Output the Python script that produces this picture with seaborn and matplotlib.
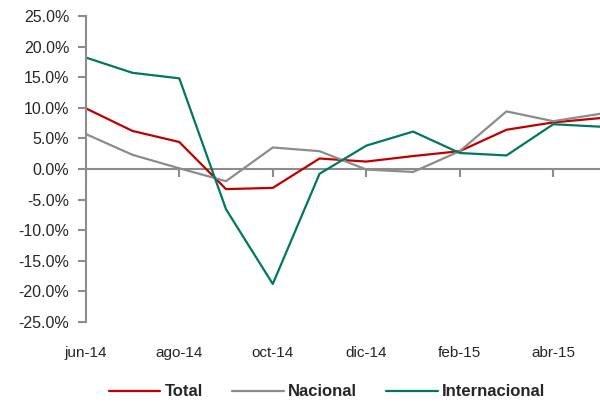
import matplotlib
matplotlib.use("Agg")
import matplotlib.pyplot as plt
import pandas as pd
import seaborn as sns
from matplotlib.ticker import FuncFormatter

months = ["jun-14", "jul-14", "ago-14", "sep-14", "oct-14", "nov-14",
          "dic-14", "ene-15", "feb-15", "mar-15", "abr-15", "may-15"]
total = [9.9, 6.2, 4.4, -3.3, -3.1, 1.7, 1.2, 2.1, 2.9, 6.4, 7.6, 8.3]
nacional = [5.7, 2.3, 0.1, -2.0, 3.5, 2.9, -0.1, -0.5, 2.9, 9.4, 7.8, 9.0]
internacional = [18.2, 15.7, 14.8, -6.6, -18.8, -0.8, 3.8, 6.1, 2.6, 2.2, 7.3, 6.9]

series_names = ["Total", "Nacional", "Internacional"]
colors = ["#C00000", "#8C8C8C", "#00785F"]

df = pd.DataFrame({"pos": range(len(months)), "Total": total,
                   "Nacional": nacional, "Internacional": internacional})
df = df.melt(id_vars="pos", var_name="serie", value_name="valor")

sns.set_style("white")
plt.rcParams["font.family"] = ["Liberation Sans Narrow", "Liberation Sans", "DejaVu Sans"]

fig = plt.figure(figsize=(6, 4.08), dpi=100)
ax = fig.add_axes([0.143, 0.211, 0.857, 0.75])

sns.lineplot(data=df, x="pos", y="valor", hue="serie", hue_order=series_names,
             palette=colors, linewidth=1.6, ax=ax)

ax.set_xlim(0, 11)
ax.set_ylim(-25, 25)
ax.set_yticks(range(-25, 30, 5))
ax.yaxis.set_major_formatter(FuncFormatter(lambda v, p: f"{v:.1f}%"))
ax.set_xticks(range(0, 12, 2))
ax.set_xticklabels(months[::2])
ax.set_xlabel("")
ax.set_ylabel("")

for s in ["top", "right", "bottom"]:
    ax.spines[s].set_visible(False)
ax.spines["left"].set_color("#8C8C8C")
ax.spines["left"].set_linewidth(1.5)
ax.tick_params(axis="y", left=True, length=6, width=1.5, color="#8C8C8C",
               labelsize=11.5, pad=6)
ax.tick_params(axis="x", bottom=False, labelsize=11, pad=14)

# zero line with tick marks pointing down
sec = ax.secondary_xaxis(0.5)
sec.set_xticks(range(0, 12, 2))
sec.set_xticklabels([])
sec.tick_params(axis="x", which="both", direction="in", length=6, width=1.5,
                color="#8C8C8C", labeltop=False, labelbottom=False)
for sp in sec.spines.values():
    sp.set_color("#8C8C8C")
    sp.set_linewidth(1.5)

leg = ax.legend(loc="center", bbox_to_anchor=(0.469, -0.229), ncol=3,
                frameon=False, handlelength=3.1, columnspacing=1.75,
                handletextpad=0.25, prop={"weight": "bold", "size": 12})

fig.savefig("out.png", dpi=100)
